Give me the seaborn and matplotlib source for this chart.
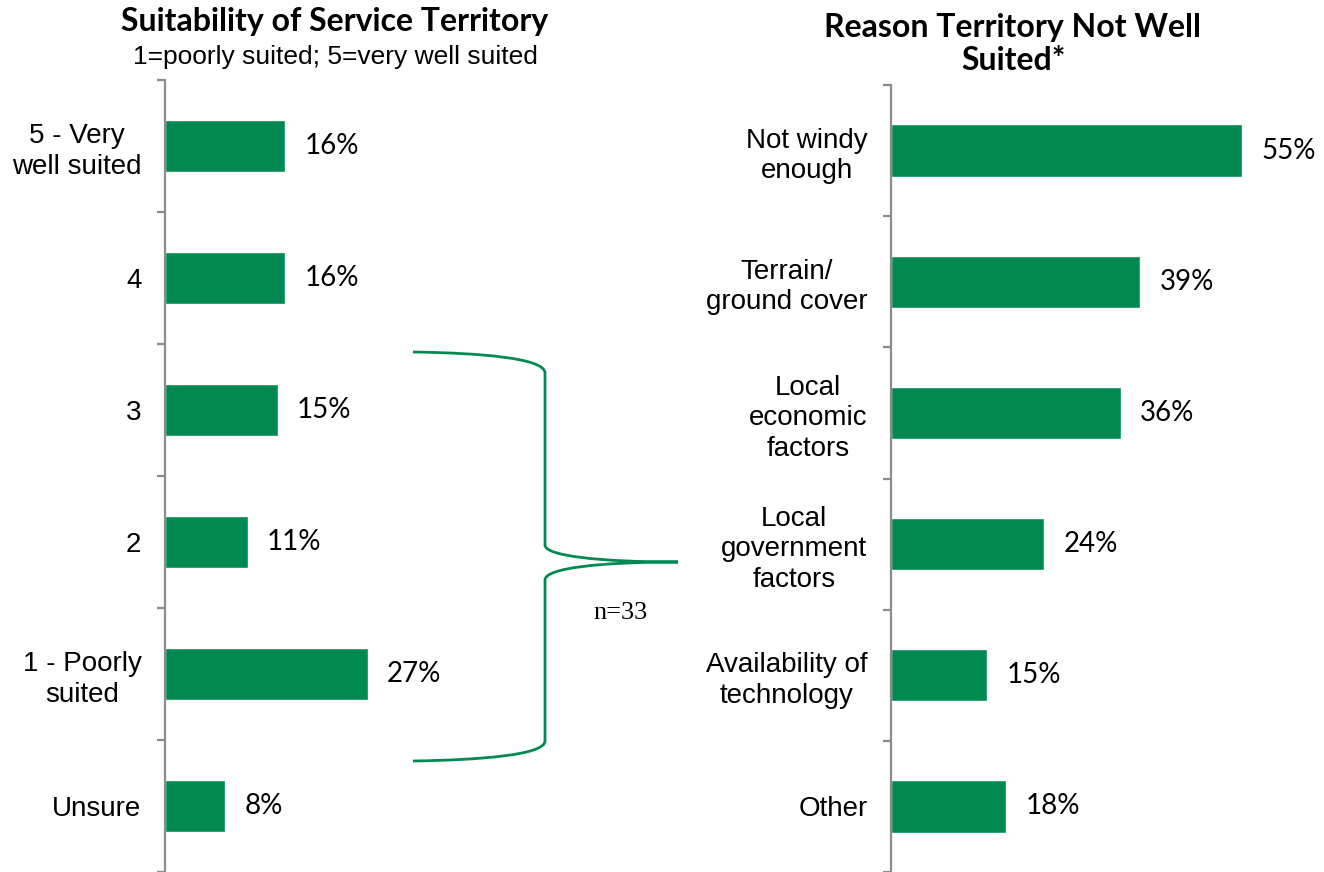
import matplotlib
matplotlib.use("Agg")
import matplotlib.pyplot as plt
import numpy as np
import pandas as pd
import seaborn as sns
from matplotlib.path import Path
from matplotlib.patches import PathPatch

# Survey results
suit_labels = ["5 - Very\nwell suited", "4", "3", "2", "1 - Poorly\nsuited", "Unsure"]
suit_values = [16, 16, 15, 11, 27, 8]

reason_labels = ["Not windy\nenough", "Terrain/\nground cover", "Local\neconomic\nfactors",
                 "Local\ngovernment\nfactors", "Availability of\ntechnology", "Other"]
reason_values = [55, 39, 36, 24, 15, 18]

sample_note = "n=33"

GREEN = "#008A52"
SPINE = "#8C8C8C"

sns.set_theme(style="white")
plt.rcParams["font.family"] = ["Liberation Sans", "DejaVu Sans"]
plt.rcParams["text.color"] = "black"

W, H = 1324, 872
fig = plt.figure(figsize=(W / 100, H / 100), dpi=100)


def px_axes(x0, y0, x1, y1):
    return fig.add_axes([x0 / W, 1 - y1 / H, (x1 - x0) / W, (y1 - y0) / H])


def panel(ax, labels, values, xmax):
    df = pd.DataFrame({"cat": labels, "val": values})
    sns.barplot(data=df, x="val", y="cat", ax=ax, color=GREEN, width=0.4,
                saturation=1, orient="h")
    n = len(labels)
    ax.set_xlim(0, xmax)
    ax.set_ylim(n - 0.5, -0.5)
    ax.set_xlabel("")
    ax.set_ylabel("")
    ax.set_xticks([])
    for side in ("top", "right", "bottom"):
        ax.spines[side].set_visible(False)
    ax.spines["left"].set_color(SPINE)
    ax.spines["left"].set_linewidth(1.6)
    ax.set_yticks(np.arange(-0.5, n, 1), minor=True)
    ax.tick_params(axis="y", which="major", length=0, pad=17, labelsize=20,
                   labelcolor="black")
    ax.tick_params(axis="y", which="minor", left=True, length=6, width=1.6,
                   color=SPINE)
    for t in ax.get_yticklabels():
        t.set_multialignment("center")
        t.set_linespacing(1.23)
    for cont in ax.containers:
        ax.bar_label(cont, labels=[f"{v}%" for v in values], padding=14,
                     fontsize=20, family="Lato", color="black")


ax1 = px_axes(165, 80, 465, 872)
ax2 = px_axes(891, 85, 1274, 872)
panel(ax1, suit_labels, suit_values, 40)
panel(ax2, reason_labels, reason_values, 60)

# Titles
fig.text(335 / W, 1 - 22 / H, "Suitability of Service Territory", ha="center",
         va="center", fontsize=23, fontweight="bold", family="Lato")
fig.text(335 / W, 1 - 57 / H, "1=poorly suited; 5=very well suited", ha="center",
         va="center", fontsize=19)
fig.text(1013 / W, 1 - 44 / H, "Reason Territory Not Well\nSuited*", ha="center",
         va="center", fontsize=23, fontweight="bold", family="Lato", linespacing=1.2)

# Brace linking low ratings to the reasons panel
over = fig.add_axes([0, 0, 1, 1], facecolor="none")
over.set_xlim(0, W)
over.set_ylim(H, 0)
over.axis("off")
verts = [
    (413, 352), (480, 353), (545, 358), (545, 373),
    (545, 545),
    (545, 556), (600, 562), (678, 562),
    (600, 562), (545, 568), (545, 580),
    (545, 741),
    (545, 755), (480, 760), (413, 761),
]
codes = [Path.MOVETO, Path.CURVE4, Path.CURVE4, Path.CURVE4,
         Path.LINETO,
         Path.CURVE4, Path.CURVE4, Path.CURVE4,
         Path.CURVE4, Path.CURVE4, Path.CURVE4,
         Path.LINETO,
         Path.CURVE4, Path.CURVE4, Path.CURVE4]
over.add_patch(PathPatch(Path(verts, codes), facecolor="none", edgecolor=GREEN, lw=2))
over.text(621, 613, sample_note, ha="center", va="center", fontsize=19,
          family="Liberation Serif", color="black")

fig.savefig("out.png", dpi=100)
